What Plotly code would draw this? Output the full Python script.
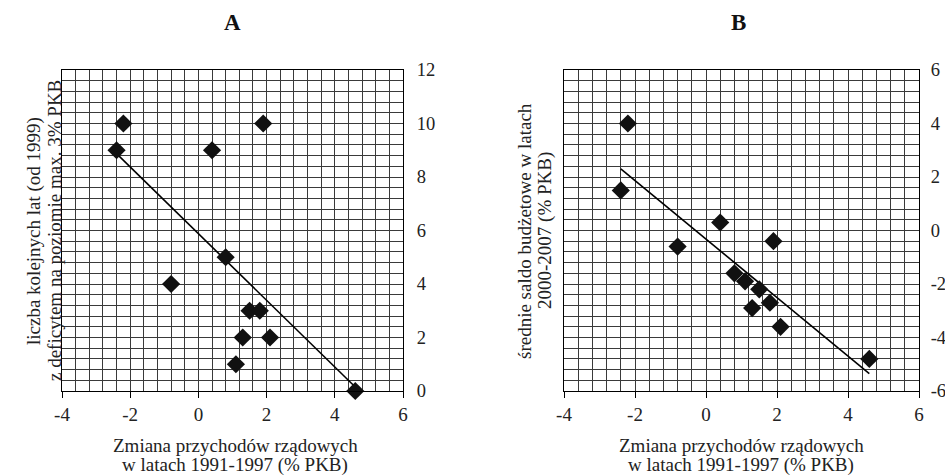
import numpy as np
import plotly.graph_objects as go

# Data
revenue_change = [-2.2, 1.9, -2.4, 0.4, 0.8, -0.8, 1.5, 1.8, 1.3, 2.1, 1.1, 4.6]
years_deficit_ok = [10, 10, 9, 9, 5, 4, 3, 3, 2, 2, 1, 0]
avg_balance = [4.0, -0.4, 1.5, 0.3, -1.6, -0.6, -2.2, -2.7, -2.9, -3.6, -1.9, -4.8]

x_ticks = [-4, -2, 0, 2, 4, 6]
x_ticklabels = ["-4", "-2", "0", "2", "4", "6"]
yA_ticks = [0, 2, 4, 6, 8, 10, 12]
yA_ticklabels = ["0", "2", "4", "6", "8", "10", "12"]
yB_ticks = [-6, -4, -2, 0, 2, 4, 6]
yB_ticklabels = ["-6", "-4", "-2", "0", "2", "4", "6"]

panel_titles = ["A", "B"]
x_title = ["Zmiana przychodów rządowych", "w latach 1991-1997 (% PKB)"]
yA_title = ["liczba kolejnych lat (od 1999)", "z deficytem na poziomie max. 3% PKB"]
yB_title = ["średnie saldo budżetowe w latach", "2000-2007 (% PKB)"]

FONT = "Liberation Serif"
W, H = 945, 475


def fit_line(x, y):
    k, b = np.polyfit(x, y, 1)
    xs = np.array([min(x), max(x)])
    return xs, k * xs + b


fig = go.Figure()
for i, yv in enumerate([years_deficit_ok, avg_balance]):
    xa = "x" if i == 0 else "x2"
    ya = "y" if i == 0 else "y2"
    lx, ly = fit_line(revenue_change, yv)
    fig.add_trace(go.Scatter(x=lx, y=ly, mode="lines", xaxis=xa, yaxis=ya,
                             line=dict(color="black", width=1.6), showlegend=False,
                             hoverinfo="skip", cliponaxis=False))
    fig.add_trace(go.Scatter(x=revenue_change, y=yv, mode="markers", xaxis=xa, yaxis=ya,
                             marker=dict(symbol="diamond", size=14, color="#111111",
                                         line=dict(width=0)),
                             showlegend=False, cliponaxis=False))

grid_col = "#3a3a3a"


def xaxis_cfg(domain, anchor):
    return dict(domain=domain, range=[-4, 6], tickvals=x_ticks, ticktext=x_ticklabels,
                anchor=anchor, ticks="outside", automargin=False,
                ticklen=6, tickcolor="black", tickwidth=1,
                showgrid=True, gridcolor=grid_col, gridwidth=1,
                minor=dict(dtick=0.4, tick0=-4, showgrid=True, gridcolor=grid_col, gridwidth=1),
                showline=True, linecolor="black", linewidth=1, mirror=True,
                zeroline=False, fixedrange=True,
                tickfont=dict(family=FONT, size=19, color="#222"))


def yaxis_cfg(rng, ticks, labels, anchor, standoff):
    return dict(domain=[1 - 391 / H, 1 - 70 / H], range=rng, tickvals=ticks, ticktext=labels,
                side="right", anchor=anchor, ticks="", ticklabelstandoff=standoff,
                automargin=False,
                showgrid=True, gridcolor=grid_col, gridwidth=1,
                minor=dict(dtick=0.4, tick0=rng[0], showgrid=True, gridcolor=grid_col, gridwidth=1),
                showline=True, linecolor="black", linewidth=1, mirror=True,
                zeroline=False, fixedrange=True,
                tickfont=dict(family=FONT, size=18.5, color="#222"))


fig.update_layout(
    width=W, height=H,
    margin=dict(l=0, r=0, t=0, b=0, autoexpand=False),
    paper_bgcolor="white", plot_bgcolor="white",
    xaxis=xaxis_cfg([62 / W, 403 / W], "y"),
    yaxis=yaxis_cfg([0, 12], yA_ticks, yA_ticklabels, "x", 9),
    xaxis2=xaxis_cfg([564 / W, 919 / W], "y2"),
    yaxis2=yaxis_cfg([-6, 6], yB_ticks, yB_ticklabels, "x2", 7),
)

ann = []
# panel titles
for t, cx in zip(panel_titles, [232, 738]):
    ann.append(dict(text=f"<b>{t}</b>", x=cx / W, y=1 - 23 / H, xref="paper", yref="paper",
                    showarrow=False, font=dict(family=FONT, size=23, color="#111"),
                    xanchor="center", yanchor="middle"))
# x titles
for cx in [235, 741]:
    for line, cy in zip(x_title, [445, 465]):
        ann.append(dict(text=line, x=cx / W, y=1 - cy / H, xref="paper", yref="paper",
                        showarrow=False, font=dict(family=FONT, size=19, color="#222"),
                        xanchor="center", yanchor="middle"))
# y titles
for lines, xs in [(yA_title, [34, 54]), (yB_title, [524, 545])]:
    for line, cx in zip(lines, xs):
        ann.append(dict(text=line, x=cx / W, y=1 - 231 / H, xref="paper", yref="paper",
                        showarrow=False, textangle=-90,
                        font=dict(family=FONT, size=19, color="#222"),
                        xanchor="center", yanchor="middle"))
fig.update_layout(annotations=ann)

fig.write_html("out.html", config={"displayModeBar": False},
               post_script="document.body.style.margin='0';document.body.style.padding='0';")
